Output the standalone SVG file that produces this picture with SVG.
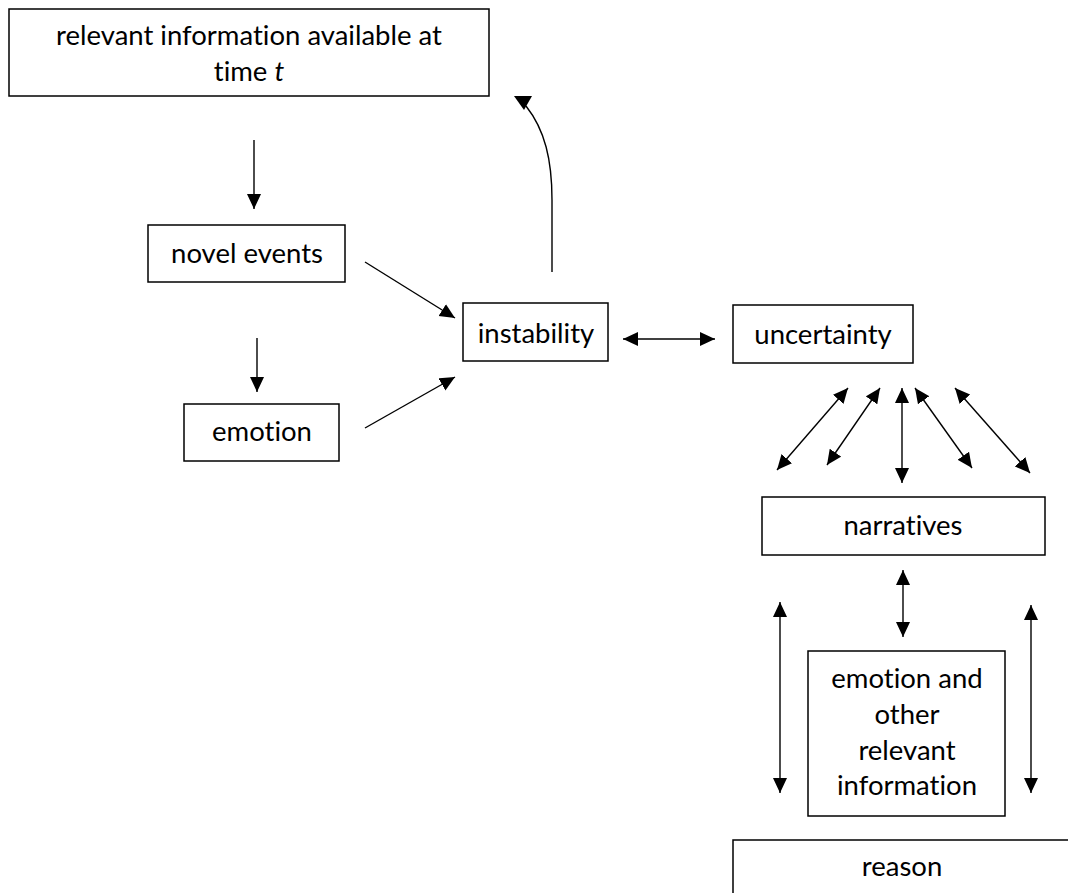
<svg xmlns="http://www.w3.org/2000/svg" width="1068" height="893" viewBox="0 0 1068 893">
<style>
.box{fill:#fff;stroke:#000;stroke-width:1.5}
.t{font-family:Lato,"Liberation Sans",sans-serif;font-size:27.5px;fill:#000;text-anchor:middle;font-variant-ligatures:none}
.c{stroke:#000;stroke-width:1.4;fill:none}
.a{marker-end:url(#ah)}
.d{marker-start:url(#ah);marker-end:url(#ah)}
</style>
<defs>
<marker id="ah" markerUnits="userSpaceOnUse" markerWidth="16" markerHeight="15" refX="15" refY="7" orient="auto-start-reverse" viewBox="0 0 16 15">
<path d="M0,0 L15,7 L0,14 z" fill="#000"/>
</marker>
</defs>
<rect width="1068" height="893" fill="#fff"/>
<g id="node-info">
<rect class="box" x="9" y="9" width="480" height="87"/>
<text class="t" x="249" y="45">relevant information available at</text>
<text class="t" x="249" y="81">time <tspan font-style="italic">t</tspan></text>
</g>
<g id="node-novel">
<rect class="box" x="148" y="225" width="197" height="57"/>
<text class="t" x="247" y="263">novel events</text>
</g>
<g id="node-emotion">
<rect class="box" x="184" y="404" width="155" height="57"/>
<text class="t" x="262" y="441">emotion</text>
</g>
<g id="node-instability">
<rect class="box" x="463" y="303" width="145" height="58"/>
<text class="t" x="536" y="343">instability</text>
</g>
<g id="node-uncertainty">
<rect class="box" x="733" y="305" width="180" height="58"/>
<text class="t" x="823" y="344">uncertainty</text>
</g>
<g id="node-narratives">
<rect class="box" x="762" y="497" width="283" height="58"/>
<text class="t" x="903" y="535">narratives</text>
</g>
<g id="node-emotion-other">
<rect class="box" x="808" y="651" width="197" height="165"/>
<text class="t" x="907" y="688">emotion and</text>
<text class="t" x="907" y="724">other</text>
<text class="t" x="907" y="760">relevant</text>
<text class="t" x="907" y="795">information</text>
</g>
<g id="node-reason">
<rect class="box" x="733" y="840" width="345" height="70"/>
<text class="t" x="902" y="876">reason</text>
</g>
<g id="connectors">
<line class="c a" x1="254" y1="140" x2="254" y2="209"/>
<line class="c a" x1="257" y1="338" x2="257" y2="392"/>
<line class="c a" x1="365" y1="262" x2="455" y2="318"/>
<line class="c a" x1="365" y1="428" x2="455" y2="377"/>
<path class="c" d="M552,272 L552,200 C552,160 545,130 526,106"/>
<polygon points="514,96 532,96 524,110" fill="#000"/>
<line class="c d" x1="623" y1="339" x2="715" y2="339"/>
<line class="c d" x1="848" y1="388" x2="777" y2="470"/>
<line class="c d" x1="880" y1="388" x2="827" y2="465"/>
<line class="c d" x1="902" y1="388" x2="902" y2="483"/>
<line class="c d" x1="915" y1="388" x2="972" y2="468"/>
<line class="c d" x1="955" y1="388" x2="1030" y2="473"/>
<line class="c d" x1="903" y1="570" x2="903" y2="637"/>
<line class="c d" x1="780" y1="602" x2="780" y2="793"/>
<line class="c d" x1="1031" y1="605" x2="1031" y2="793"/>
</g>
</svg>
